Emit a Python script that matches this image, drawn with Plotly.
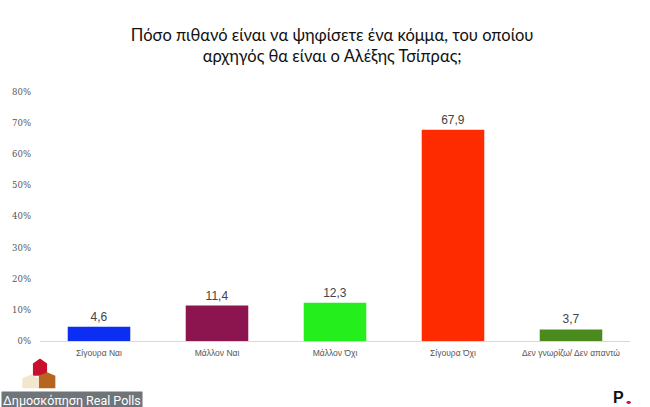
import plotly.graph_objects as go

categories = ["Σίγουρα Ναι", "Μάλλον Ναι", "Μάλλον Όχι", "Σίγουρα Όχι", "Δεν γνωρίζω/ Δεν απαντώ"]
values = [4.6, 11.4, 12.3, 67.9, 3.7]
value_labels = ["4,6", "11,4", "12,3", "67,9", "3,7"]
colors = ["#0b2ef2", "#8c1550", "#24ee1c", "#ff2b00", "#4b8a1c"]
tick_vals = [0, 10, 20, 30, 40, 50, 60, 70, 80]
tick_text = ["0%", "10%", "20%", "30%", "40%", "50%", "60%", "70%", "80%"]

fig = go.Figure()
fig.add_trace(go.Bar(
    x=categories, y=values, marker=dict(color=colors, line=dict(width=0)),
    text=value_labels, textposition="outside",
    textfont=dict(size=12, color="#444444", family="Liberation Sans"),
    width=0.53, cliponaxis=False, hoverinfo="skip",
))

fig.update_layout(
    width=650, height=407,
    margin=dict(l=40, r=20, t=92, b=66),
    paper_bgcolor="white", plot_bgcolor="white",
    showlegend=False,
    title=dict(
        text="Πόσο πιθανό είναι να ψηφίσετε ένα κόμμα, του οποίου<br>αρχηγός θα είναι ο Αλέξης Τσίπρας;",
        x=0.511, xanchor="center", y=0.9, yanchor="middle",
        font=dict(size=16.5, color="#111111", family="Lato"),
    ),
    xaxis=dict(
        showline=True, linecolor="#d8d8d8", linewidth=1,
        tickfont=dict(size=8.5, color="#555555", family="Liberation Sans"),
        ticks="", showgrid=False, ticklabelstandoff=4,
    ),
    yaxis=dict(
        range=[0, 80], tickvals=tick_vals, ticktext=tick_text,
        tickfont=dict(size=8.5, color="#555555", family="DejaVu Serif"),
        showgrid=False, zeroline=False, showline=False, ticks="",
        ticklabelstandoff=8,
    ),
)

# logo shapes (approximate)
fig.add_shape(type="path", xref="paper", yref="paper",
              path="M -0.012 -0.09 L 0.0 -0.07 L 0.012 -0.09 L 0.012 -0.14 L -0.012 -0.14 Z",
              fillcolor="#c8102e", line=dict(width=0))
fig.add_shape(type="path", xref="paper", yref="paper",
              path="M -0.002 -0.14 L 0.012 -0.125 L 0.026 -0.14 L 0.026 -0.19 L -0.002 -0.19 Z",
              fillcolor="#b5651d", line=dict(width=0))
fig.add_shape(type="path", xref="paper", yref="paper",
              path="M -0.03 -0.15 L -0.015 -0.135 L -0.002 -0.15 L -0.002 -0.19 L -0.03 -0.19 Z",
              fillcolor="#f2e6cf", line=dict(width=0))

fig.add_annotation(
    xref="paper", yref="paper", x=-0.0665, y=-0.2755, xanchor="left", yanchor="bottom",
    text="Δημοσκόπηση Real Polls", showarrow=False,
    font=dict(size=12.5, color="white", family="Roboto"),
    bgcolor="#6f7479", borderpad=1,
)
fig.add_annotation(
    xref="paper", yref="paper", x=0.98, y=-0.225, xanchor="center", yanchor="middle",
    text="<b>P</b>", showarrow=False,
    font=dict(size=16, color="#111111", family="Liberation Sans"),
)
fig.add_shape(type="circle", xref="paper", yref="paper",
              x0=0.994, x1=1.0015, y0=-0.253, y1=-0.241,
              fillcolor="#d0103a", line=dict(width=0))

fig.write_html("out.html", config={"displayModeBar": False},
               post_script="document.body.style.margin='0';document.body.style.overflow='hidden';")
